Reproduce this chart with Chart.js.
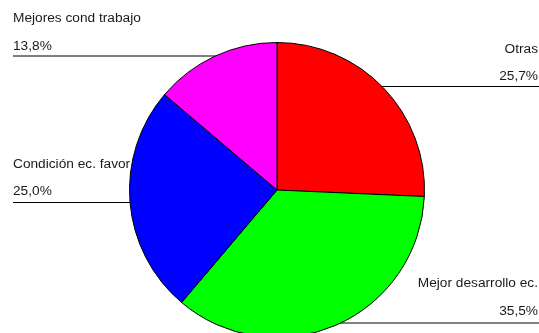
<!DOCTYPE html>
<html>
<head>
<meta charset="utf-8">
<script src="https://cdn.jsdelivr.net/npm/chart.js@4/dist/chart.umd.min.js"></script>
<style>
  html, body { margin: 0; padding: 0; background: #fff; overflow: hidden; }
  #wrap { position: relative; width: 539px; height: 350px; }
</style>
</head>
<body>
<div id="wrap"><canvas id="chart"></canvas></div>
<script>
const labels = ["Otras", "Mejor desarrollo ec.", "Condición ec. favor", "Mejores cond trabajo"];
const values = [25.7, 35.5, 25.0, 13.8];
const colors = ["#ff0000", "#00ff00", "#0000ff", "#ff00ff"];

/* ---------- LABEL PLACEMENT ---------- */

// side of the page, text baselines and leader line for each slice
const placement = [
  { side: "right", nameY: 53, pctY: 80, lineY: 86.5 },
  { side: "right", nameY: 287, pctY: 315, lineY: 323 },
  { side: "left", nameY: 168, pctY: 195, lineY: 202.5 },
  { side: "left", nameY: 22, pctY: 50, lineY: 56 }
];

function pct(v) {
  return v.toFixed(1).replace(".", ",") + "%";
}

const sliceLabels = {
  id: "sliceLabels",
  beforeDatasetsDraw(chart) {
    const { ctx } = chart;
    const arc = chart.getDatasetMeta(0).data[0];
    ctx.save();
    ctx.strokeStyle = "#000";
    ctx.lineWidth = 1;
    placement.forEach(p => {
      ctx.beginPath();
      if (p.side === "left") {
        ctx.moveTo(13, p.lineY);
        ctx.lineTo(arc.x, p.lineY);
      } else {
        ctx.moveTo(arc.x, p.lineY);
        ctx.lineTo(539, p.lineY);
      }
      ctx.stroke();
    });
    ctx.restore();
  },
  afterDraw(chart) {
    const { ctx } = chart;
    ctx.save();
    ctx.font = "13.7px 'Liberation Sans', Arial, sans-serif";
    ctx.fillStyle = "#1a1a1a";
    ctx.textBaseline = "alphabetic";
    placement.forEach((p, i) => {
      const x = p.side === "left" ? 13 : 538;
      ctx.textAlign = p.side === "left" ? "left" : "right";
      ctx.fillText(labels[i], x, p.nameY);
      ctx.fillText(pct(values[i]), x, p.pctY);
    });
    ctx.restore();
  }
};

/* ---------- CHART ---------- */

new Chart(document.getElementById("chart"), {
  type: "pie",
  data: {
    labels,
    datasets: [{
      data: values,
      backgroundColor: colors,
      borderColor: "#000",
      borderWidth: 1
    }]
  },
  options: {
    responsive: true,
    maintainAspectRatio: false,
    animation: false,
    layout: { padding: { top: 42, bottom: 12, left: 15, right: 0 } },
    plugins: {
      legend: { display: false },
      tooltip: { enabled: false }
    }
  },
  plugins: [sliceLabels]
});
</script>
</body>
</html>
